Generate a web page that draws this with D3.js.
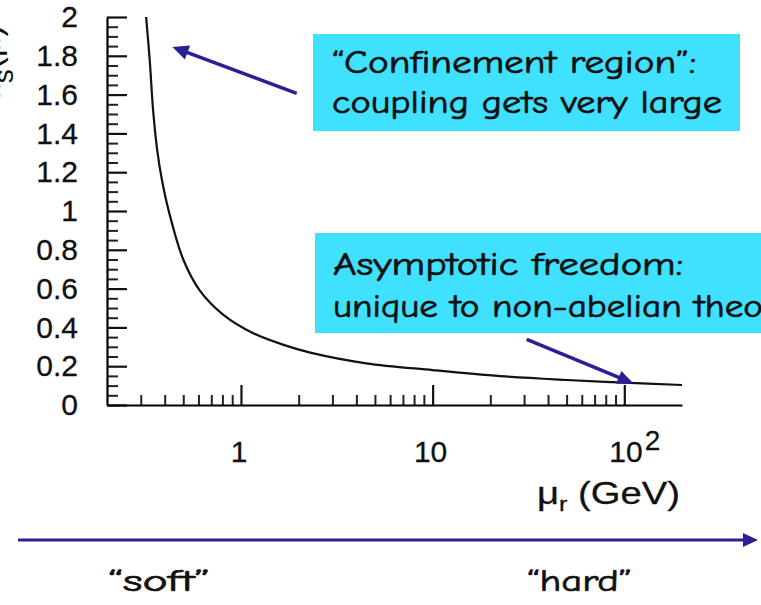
<!DOCTYPE html>
<html>
<head>
<meta charset="utf-8">
<script src="https://cdn.jsdelivr.net/npm/d3@7"></script>
<style>
  html, body { margin: 0; padding: 0; background: #fff; overflow: hidden; }
  svg { display: block; }
</style>
</head>
<body>
<svg id="chart" width="761" height="605"></svg>
<script>
// Running coupling alpha_s versus renormalisation scale mu_r (GeV)
const muValues    = [0.32, 0.334, 0.348, 0.366, 0.387, 0.42, 0.50, 0.61, 0.81, 1.16, 1.67, 2.3, 4.5, 10, 22.6, 50, 100, 200];
const alphaValues = [2.0, 1.78, 1.52, 1.31, 1.16, 1.0, 0.75, 0.59, 0.465, 0.37, 0.31, 0.27, 0.215, 0.18, 0.149, 0.129, 0.115, 0.103];

// Axis ticks
const yMajorTicks = [0, 0.2, 0.4, 0.6, 0.8, 1, 1.2, 1.4, 1.6, 1.8, 2];
const yTickLabels = ["0", "0.2", "0.4", "0.6", "0.8", "1", "1.2", "1.4", "1.6", "1.8", "2"];
const xMajorTicks = [1, 10, 100];
const xTickBase   = ["1", "10", "10"];
const xTickExp    = ["", "", "2"];
const xMinorTicks = [0.3, 0.4, 0.5, 0.6, 0.7, 0.8, 0.9,
                     2, 3, 4, 5, 6, 7, 8, 9,
                     20, 30, 40, 50, 60, 70, 80, 90];

// Callout texts
const confinementLines = ["\u201CConfinement region\u201D:", "coupling gets very large"];
const freedomLines     = ["Asymptotic freedom:", "unique to non-abelian theories"];
const scaleLabels      = ["\u201Csoft\u201D", "\u201Chard\u201D"];

const ARROW = "#2a1f96";
const BOX = "#40e0ff";
const HAND = "'Comic Sans MS', 'Comic Neue', 'Open Sans', sans-serif";
const SANS = "'Liberation Sans', Arial, Helvetica, sans-serif";

const svg = d3.select("#chart");

const x = d3.scaleLog().domain([0.2, 200]).range([107, 682]);
const y = d3.scaleLinear().domain([0, 2]).range([405, 17]);

// ----- y axis -----
const yMinor = d3.range(0, 2.0001, 0.05).filter(v => Math.abs(v * 5 - Math.round(v * 5)) > 1e-6);
const gyMinor = svg.append("g").attr("transform", "translate(107,0)")
  .call(d3.axisLeft(y).tickValues(yMinor).tickSizeInner(-11).tickSizeOuter(0).tickFormat(""));
gyMinor.select(".domain").remove();
gyMinor.selectAll(".tick line").attr("stroke", "#222").attr("stroke-width", 2);

const gy = svg.append("g").attr("transform", "translate(107,0)")
  .call(d3.axisLeft(y).tickValues(yMajorTicks).tickSizeInner(-20).tickSizeOuter(0)
        .tickPadding(29).tickFormat((d, i) => yTickLabels[i]));
gy.select(".domain").attr("stroke", "#000").attr("stroke-width", 2.2);
gy.selectAll(".tick line").attr("stroke", "#111").attr("stroke-width", 2.2);
gy.selectAll(".tick text").attr("font-family", SANS).attr("font-size", 30).attr("fill", "#111")
  .attr("stroke", "#111").attr("stroke-width", 0.3);

// ----- x axis -----
const gxMinor = svg.append("g").attr("transform", "translate(0,405)")
  .call(d3.axisBottom(x).tickValues(xMinorTicks).tickSizeInner(-10).tickSizeOuter(0).tickFormat(""));
gxMinor.select(".domain").remove();
gxMinor.selectAll(".tick line").attr("stroke", "#222").attr("stroke-width", 2);

const gx = svg.append("g").attr("transform", "translate(0,405)")
  .call(d3.axisBottom(x).tickValues(xMajorTicks).tickSizeInner(-20).tickSizeOuter(0).tickFormat(""));
gx.select(".domain").attr("stroke", "#000").attr("stroke-width", 2.2);
gx.selectAll(".tick line").attr("stroke", "#111").attr("stroke-width", 2.2);

const xLab = svg.append("g").attr("font-family", SANS).attr("font-size", 30).attr("fill", "#111")
  .attr("stroke", "#111").attr("stroke-width", 0.3);
xMajorTicks.forEach((v, i) => {
  const t = xLab.append("text").attr("y", 462);
  if (xTickExp[i]) {
    t.attr("x", x(v) - 15).attr("text-anchor", "start");
    t.append("tspan").text(xTickBase[i]);
    t.append("tspan").attr("dx", 2).attr("dy", -12).attr("font-size", 28).text(xTickExp[i]);
  } else {
    t.attr("x", x(v) - 2).attr("text-anchor", "middle").text(xTickBase[i]);
  }
});

// axis titles
const xTitle = svg.append("text").attr("x", 537).attr("y", 504).attr("text-anchor", "start")
  .attr("font-family", SANS).attr("font-size", 32).attr("fill", "#111")
  .attr("stroke", "#111").attr("stroke-width", 0.3);
xTitle.append("tspan").text("\u03BC");
xTitle.append("tspan").attr("dy", 7).attr("font-size", 21).text("r");
xTitle.append("tspan").attr("dy", -7).text(" (GeV)");
xTitle.attr("textLength", 143).attr("lengthAdjust", "spacingAndGlyphs");

const yTitle = svg.append("text").attr("transform", "translate(0,104) rotate(-90)")
  .attr("text-anchor", "start").attr("font-family", SANS).attr("font-size", 36).attr("fill", "#111");
yTitle.append("tspan").text("\u03B1");
yTitle.append("tspan").attr("dy", 13).attr("font-size", 28).text("s");
yTitle.append("tspan").attr("dy", -13).text("(\u03BC)");

// ----- coupling curve -----
const pts = muValues.map((m, i) => [m, alphaValues[i]]);
svg.append("path")
  .datum(pts)
  .attr("fill", "none")
  .attr("stroke", "#111")
  .attr("stroke-width", 2.2)
  .attr("d", d3.line().x(d => x(d[0])).y(d => y(d[1])).curve(d3.curveCatmullRom.alpha(0.5)));

// ----- arrow helper -----
function arrow(x1, y1, x2, y2, w, headLen, headW) {
  const ang = Math.atan2(y2 - y1, x2 - x1);
  const bx = x2 - headLen * Math.cos(ang), by = y2 - headLen * Math.sin(ang);
  svg.append("line").attr("x1", x1).attr("y1", y1).attr("x2", bx + Math.cos(ang) * 2).attr("y2", by + Math.sin(ang) * 2)
    .attr("stroke", ARROW).attr("stroke-width", w);
  const px = -Math.sin(ang) * headW / 2, py = Math.cos(ang) * headW / 2;
  svg.append("path")
    .attr("d", `M${x2},${y2}L${bx + px},${by + py}L${bx - px},${by - py}Z`)
    .attr("fill", ARROW);
}

// ----- callout boxes -----
function handText(xp, yp, size, str) {
  return svg.append("text").attr("x", xp).attr("y", yp)
    .attr("font-family", HAND).attr("font-size", size)
    .attr("fill", "#111").attr("stroke", "#111").attr("stroke-width", 0.7)
    .text(str);
}
function fitLine(sel, target) {
  sel.attr("textLength", target).attr("lengthAdjust", "spacingAndGlyphs");
}

svg.append("rect").attr("x", 313).attr("y", 34).attr("width", 427).attr("height", 97).attr("fill", BOX);
fitLine(handText(332, 73, 33, confinementLines[0]), 364);
fitLine(handText(332, 113, 33, confinementLines[1]), 390);

svg.append("rect").attr("x", 315).attr("y", 233).attr("width", 460).attr("height", 100).attr("fill", BOX);
fitLine(handText(333, 275, 33, freedomLines[0]), 350);
const f2 = handText(333, 317, 33, freedomLines[1]);
{
  const total = f2.node().getComputedTextLength();
  const prefix = f2.node().getSubStringLength(0, 26);
  f2.attr("textLength", total * 430 / prefix).attr("lengthAdjust", "spacingAndGlyphs");
}

// callout arrows
arrow(296.7, 93.3, 172.5, 47, 3.5, 16, 15);
arrow(526.7, 339.3, 633.5, 383.5, 3.5, 16, 14);

// ----- soft / hard scale arrow -----
arrow(18, 540, 758, 540, 3.2, 15, 14);
fitLine(handText(108, 591, 31, scaleLabels[0]), 102);
fitLine(handText(527, 591, 31, scaleLabels[1]), 105);
</script>
</body>
</html>
